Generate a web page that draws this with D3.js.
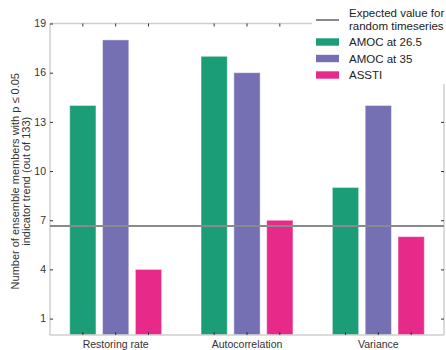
<!DOCTYPE html>
<html><head><meta charset="utf-8">
<script src="https://cdn.jsdelivr.net/npm/d3@7"></script>
<style>body{margin:0;background:#fff}svg{display:block;font-family:"Liberation Sans",Arial,sans-serif}</style>
</head><body><svg id="c" width="446" height="350"></svg>
<script>
const categories = ["Restoring rate", "Autocorrelation", "Variance"];
const seriesNames = ["AMOC at 26.5", "AMOC at 35", "ASSTI"];
const amoc265 = [14, 17, 9];
const amoc35 = [18, 16, 14];
const assti = [4, 7, 6];
const expectedValue = 6.65;
const yTicks = [1, 4, 7, 10, 13, 16, 19];
const colors = ["#1b9e77", "#7570b3", "#e7298a"];
const seriesValues = [amoc265, amoc35, assti];

const svg = d3.select("#c");
const L = 50, R = 444, T = 23.5, B = 335;
const x = d3.scaleBand().domain(categories).range([L, R]).paddingInner(0).paddingOuter(0);
const bw = x.bandwidth();
const off = d3.scaleLinear().domain([0, 2]).range([-0.25 * bw, 0.25 * bw]);
const barW = 0.2 * bw;
const y = d3.scaleLinear().domain([0, 19]).range([B, T]);

// bars
seriesValues.forEach((vals, si) => {
  svg.append("g").selectAll("rect").data(vals).join("rect")
    .attr("x", (d, i) => x(categories[i]) + bw / 2 + off(si) - barW / 2)
    .attr("width", barW)
    .attr("y", d => y(d))
    .attr("height", d => y(0) - y(d))
    .attr("fill", colors[si])
    .attr("stroke", "rgba(255,255,255,0.45)")
    .attr("stroke-width", 1);
});

// frame
const frameColor = "#cfcfcf";
svg.append("line").attr("x1", L).attr("x2", L).attr("y1", T).attr("y2", B).attr("stroke", frameColor).attr("stroke-width", 1.5);
svg.append("line").attr("x1", R).attr("x2", R).attr("y1", T).attr("y2", B).attr("stroke", frameColor).attr("stroke-width", 1.5);
svg.append("line").attr("x1", L).attr("x2", R).attr("y1", T).attr("y2", T).attr("stroke", frameColor).attr("stroke-width", 1.5);
svg.append("line").attr("x1", L).attr("x2", R).attr("y1", B).attr("y2", B).attr("stroke", frameColor).attr("stroke-width", 1.5);

// y axis (left, inward ticks)
const yAxisL = svg.append("g").attr("transform", `translate(${L},0)`)
  .call(d3.axisRight(y).tickValues(yTicks).tickSize(3).tickFormat(""));
yAxisL.select(".domain").remove();
yAxisL.selectAll("line").attr("stroke", "#333");
const yAxisR = svg.append("g").attr("transform", `translate(${R},0)`)
  .call(d3.axisLeft(y).tickValues(yTicks).tickSize(3).tickFormat(""));
yAxisR.select(".domain").remove();
yAxisR.selectAll("line").attr("stroke", "#333");
svg.append("g").selectAll("text").data(yTicks).join("text")
  .attr("x", L - 4).attr("y", d => y(d)).attr("dy", "0.35em")
  .attr("text-anchor", "end").attr("font-size", 10.5).attr("fill", "#333")
  .text(d => d);

// x ticks at bar centres
const barCenters = [];
categories.forEach(c => [0, 1, 2].forEach(si => barCenters.push(x(c) + bw / 2 + off(si))));
svg.append("g").selectAll("line").data(barCenters).join("line")
  .attr("x1", d => d).attr("x2", d => d).attr("y1", B).attr("y2", B - 3).attr("stroke", "#333");
svg.append("g").selectAll("line").data(barCenters).join("line")
  .attr("x1", d => d).attr("x2", d => d).attr("y1", T).attr("y2", T + 3).attr("stroke", "#333");
svg.append("g").selectAll("text").data(categories).join("text")
  .attr("x", d => x(d) + bw / 2).attr("y", 344).attr("dy", "0.35em")
  .attr("text-anchor", "middle").attr("font-size", 10.5).attr("fill", "#333")
  .text(d => d);

// expected value line
svg.append("line").attr("x1", L).attr("x2", R).attr("y1", y(expectedValue)).attr("y2", y(expectedValue))
  .attr("stroke", "#8a8a8a").attr("stroke-width", 2);

// y label
const yl = svg.append("text").attr("transform", `translate(0,${(T + B) / 2 + 2}) rotate(-90)`)
  .attr("text-anchor", "middle").attr("font-size", 11).attr("fill", "#333");
yl.append("tspan").attr("x", 0).attr("y", 19).text("Number of ensemble members with p \u2264 0.05");
yl.append("tspan").attr("x", 0).attr("y", 30).text("indicator trend (out of 133)");

// legend
const lg = svg.append("g");
lg.append("rect").attr("x", 312).attr("y", 0).attr("width", 134).attr("height", 84).attr("fill", "#fff");
lg.append("line").attr("x1", 316).attr("x2", 339).attr("y1", 20).attr("y2", 20).attr("stroke", "#8a8a8a").attr("stroke-width", 2);
lg.append("text").attr("x", 349).attr("y", 13).attr("dy", "0.35em").attr("font-size", 11.5).attr("fill", "#222").text("Expected value for");
lg.append("text").attr("x", 349).attr("y", 25.5).attr("dy", "0.35em").attr("font-size", 11.5).attr("fill", "#222").text("random timeseries");
const legYs = [42, 58.5, 75];
seriesNames.forEach((n, i) => {
  lg.append("rect").attr("x", 316).attr("y", legYs[i] - 3.7).attr("width", 23).attr("height", 7.4).attr("fill", colors[i]);
  lg.append("text").attr("x", 349).attr("y", legYs[i]).attr("dy", "0.35em").attr("font-size", 11.5).attr("fill", "#222").text(n);
});
</script></body></html>
